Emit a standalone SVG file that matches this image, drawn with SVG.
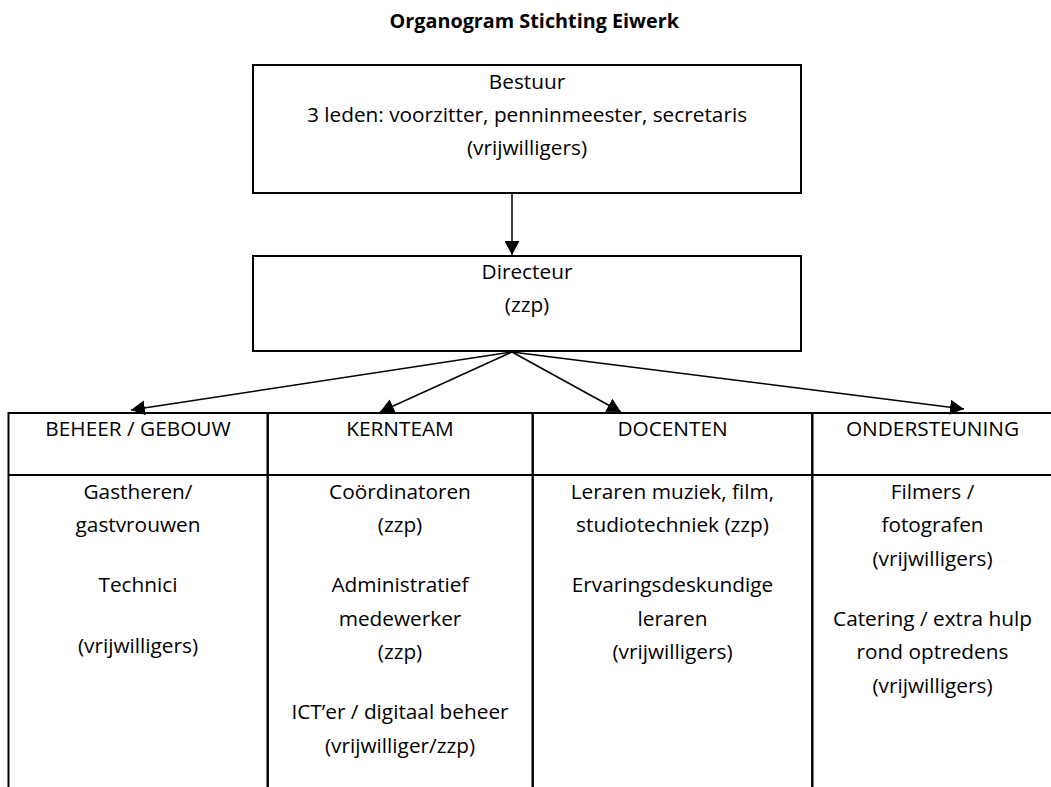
<svg xmlns="http://www.w3.org/2000/svg" width="1051" height="787" viewBox="0 0 1051 787">
<style>
  .t { font-family: "Open Sans", "Liberation Sans", sans-serif; font-size: 20.8px; fill: #000; text-anchor: middle; }
  .title { font-family: "Open Sans", "Liberation Sans", sans-serif; font-size: 19.8px; font-weight: bold; fill: #000; text-anchor: middle; }
  .box { fill: #fff; stroke: #000; stroke-width: 2; }
  .cell { fill: none; stroke: #000; stroke-width: 2; }
  .conn { stroke: #000; stroke-width: 1.5; fill: none; marker-end: url(#arrow); }
</style>
<defs>
  <marker id="arrow" markerUnits="userSpaceOnUse" viewBox="0 0 14 15" refX="14" refY="7.5" markerWidth="14" markerHeight="15" orient="auto">
    <path d="M0,0 L14,7.5 L0,15 Z" fill="#000"/>
  </marker>
</defs>
<rect width="1051" height="787" fill="#fff"/>

<g id="title">
  <text class="title" x="534.3" y="27.5">Organogram Stichting Eiwerk</text>
</g>

<g id="bestuur">
  <rect class="box" x="253" y="65" width="548" height="128"/>
  <text class="t" x="527" y="88.5">Bestuur</text>
  <text class="t" x="527" y="121.7">3 leden: voorzitter, penninmeester, secretaris</text>
  <text class="t" x="527" y="155">(vrijwilligers)</text>
</g>

<g id="directeur">
  <rect class="box" x="253" y="256" width="548" height="95"/>
  <text class="t" x="527" y="279">Directeur</text>
  <text class="t" x="527" y="312">(zzp)</text>
</g>

<g id="col-beheer">
  <rect class="cell" x="8.5" y="413" width="259.2" height="400"/>
  <line class="cell" x1="8.5" y1="475" x2="267.7" y2="475"/>
  <text class="t" x="138" y="435.7">BEHEER / GEBOUW</text>
  <text class="t" x="138" y="498.5">Gastheren/</text>
  <text class="t" x="138" y="532">gastvrouwen</text>
  <text class="t" x="138" y="592">Technici</text>
  <text class="t" x="138" y="652.5">(vrijwilligers)</text>
</g>

<g id="col-kernteam">
  <rect class="cell" x="267.7" y="413" width="265" height="400"/>
  <line class="cell" x1="267.7" y1="475" x2="532.7" y2="475"/>
  <text class="t" x="400" y="435.7">KERNTEAM</text>
  <text class="t" x="400" y="498.5">Coördinatoren</text>
  <text class="t" x="400" y="532">(zzp)</text>
  <text class="t" x="400" y="592">Administratief</text>
  <text class="t" x="400" y="625.5">medewerker</text>
  <text class="t" x="400" y="659">(zzp)</text>
  <text class="t" x="400" y="719">ICT’er / digitaal beheer</text>
  <text class="t" x="400" y="752.5">(vrijwilliger/zzp)</text>
</g>

<g id="col-docenten">
  <rect class="cell" x="532.7" y="413" width="279.6" height="400"/>
  <line class="cell" x1="532.7" y1="475" x2="812.3" y2="475"/>
  <text class="t" x="672.5" y="435.7">DOCENTEN</text>
  <text class="t" x="672.5" y="498.5">Leraren muziek, film,</text>
  <text class="t" x="672.5" y="532">studiotechniek (zzp)</text>
  <text class="t" x="672.5" y="592">Ervaringsdeskundige</text>
  <text class="t" x="672.5" y="625.5">leraren</text>
  <text class="t" x="672.5" y="659">(vrijwilligers)</text>
</g>

<g id="col-ondersteuning">
  <rect class="cell" x="812.3" y="413" width="241" height="400"/>
  <line class="cell" x1="812.3" y1="475" x2="1053.3" y2="475"/>
  <text class="t" x="932.5" y="435.7">ONDERSTEUNING</text>
  <text class="t" x="932.5" y="498.5">Filmers /</text>
  <text class="t" x="932.5" y="532">fotografen</text>
  <text class="t" x="932.5" y="565.5">(vrijwilligers)</text>
  <text class="t" x="932.5" y="625.5">Catering / extra hulp</text>
  <text class="t" x="932.5" y="659">rond optredens</text>
  <text class="t" x="932.5" y="692.5">(vrijwilligers)</text>
</g>

<g id="connectors">
  <line class="conn" x1="512" y1="194" x2="512" y2="255"/>
  <line class="conn" x1="512" y1="352" x2="131" y2="410"/>
  <line class="conn" x1="512" y1="352" x2="380" y2="412"/>
  <line class="conn" x1="512" y1="352" x2="621" y2="412"/>
  <line class="conn" x1="512" y1="352" x2="964" y2="409"/>
</g>
</svg>
